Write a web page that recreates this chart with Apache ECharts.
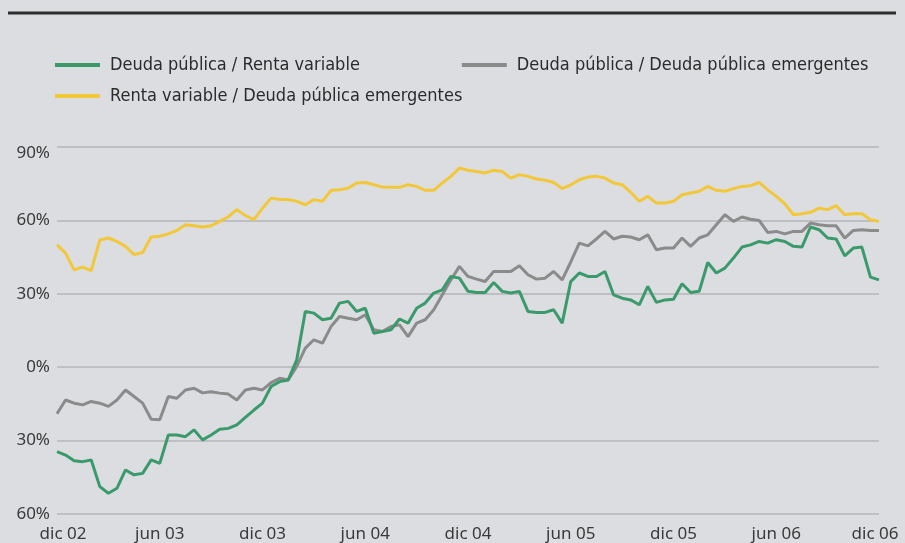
<!DOCTYPE html>
<html>
<head>
<meta charset="utf-8">
<script src="https://cdn.jsdelivr.net/npm/echarts@6/dist/echarts.min.js"></script>
<style>
html,body{margin:0;padding:0;background:#dcdde0;}
#c{width:905px;height:543px;}
</style>
</head>
<body>
<div id="c"></div>
<script>
// Tick labels shown on the x axis (every 6 months)
const tickLabels = ['dic 02','jun 03','dic 03','jun 04','dic 04','jun 05','dic 05','jun 06','dic 06'];
const monthNames = ['ene','feb','mar','abr','may','jun','jul','ago','sep','oct','nov','dic'];
const seriesNames = ['Deuda pública / Renta variable','Deuda pública / Deuda pública emergentes','Renta variable / Deuda pública emergentes'];

// Half-monthly readings, Dec 2002 – Dec 2006 (%)
const deudaRenta = [
 -34.5,-35.9,-38.2,-38.6,-37.9,-48.8,-51.5,-49.5,-42,-44,
 -43.4,-37.9,-39.3,-27.7,-27.7,-28.4,-25.6,-29.7,-27.7,-25.4,
 -25,-23.6,-20.5,-17.5,-14.7,-7.9,-5.9,-5.2,3,22.8,
 22.1,19.4,20,26.2,26.9,22.8,24.1,13.9,14.6,15.3,
 19.7,18,24.1,26.2,30.3,31.6,37.1,36.4,31,30.5,
 30.5,34.6,31,30.3,31,22.8,22.4,22.4,23.5,18,
 35,38.5,37.1,37.1,39.1,29.6,28.2,27.5,25.5,33,
 26.5,27.5,27.8,34.1,30.5,31,42.8,38.5,40.5,44.6,
 49.1,50,51.4,50.7,52.1,51.4,49.4,49.1,57.3,56.2,
 52.8,52.4,45.5,48.7,49.1,36.8,35.7
];
const deudaEmerg = [
 -19,-13.4,-14.7,-15.4,-14,-14.7,-16,-13.4,-9.3,-12,
 -14.7,-21.3,-21.5,-12,-12.7,-9.3,-8.6,-10.5,-10,-10.6,
 -11,-13.4,-9.3,-8.6,-9.3,-6.3,-4.5,-5.2,0.3,7.8,
 11.2,9.8,16.6,20.7,20,19.4,21.4,15.3,14.6,16.6,
 17.3,12.5,18,19.4,23.5,29.6,35.7,41.2,37.1,36,
 35,39.1,39.1,39.1,41.5,37.8,36,36.4,39.1,35.7,
 43,50.7,49.6,52.4,55.5,52.4,53.5,53.2,52.1,54.1,
 48,48.7,48.7,52.8,49.4,52.8,54.1,58.2,62.3,59.6,
 61.4,60.5,60,55.1,55.5,54.5,55.5,55.5,58.9,58.2,
 57.8,57.8,52.8,55.9,56.2,55.9,55.9
];
const rentaEmerg = [
 50,46.6,39.8,40.9,39.5,52,52.8,51.4,49.4,46,
 46.9,53.2,53.5,54.5,55.9,58.2,57.8,57.3,57.8,59.6,
 61.5,64.4,62,60.3,65,69.1,68.5,68.5,67.8,66.4,
 68.5,67.8,72.3,72.5,73.2,75.3,75.5,74.6,73.6,73.5,
 73.5,74.6,73.9,72.3,72.3,75.3,78,81.4,80.5,80,
 79.4,80.5,80,77.3,78.7,78,76.9,76.4,75.5,73,
 74.5,76.6,77.7,78,77.3,75.3,74.6,71.5,67.8,69.8,
 67.1,67.1,67.8,70.5,71.2,71.9,73.9,72.3,71.9,73,
 73.9,74.2,75.5,72.5,69.8,66.8,62.3,62.7,63.3,65,
 64.4,66,62.3,62.7,62.7,60.3,59.6
];

// Category labels: half-month dates starting Dec 2002
const categories = [];
for (let i = 0; i < deudaRenta.length; i++) {
  const m = 11 + Math.floor(i / 2);
  const yr = String(2002 + Math.floor(m / 12)).slice(2);
  categories.push((i % 2 === 0 ? '1 ' : '16 ') + monthNames[m % 12] + ' ' + yr);
}

const labelFont = "'Noto Sans', 'Open Sans', sans-serif";
const legendFont = "'Liberation Sans Narrow', 'DejaVu Sans Condensed', sans-serif";
const legendText = {fontFamily: legendFont, fontSize: 18, color: '#2b2b2b', padding: [0,0,0,5]};

const chart = echarts.init(document.getElementById('c'), null, {renderer: 'canvas'});
chart.setOption({
  animation: false,
  backgroundColor: '#dcdde0',
  graphic: [{
    type: 'line',
    shape: {x1: 8, y1: 13, x2: 896, y2: 13},
    style: {stroke: '#2e2e2e', lineWidth: 3}
  }],
  legend: [{
    data: [seriesNames[0], seriesNames[1]],
    left: 55, top: 56, padding: 0,
    icon: 'rect', itemWidth: 45, itemHeight: 4, itemGap: 102,
    textStyle: legendText
  }, {
    data: [seriesNames[2]],
    left: 55, top: 87, padding: 0,
    icon: 'rect', itemWidth: 45, itemHeight: 4,
    textStyle: legendText
  }],
  grid: {left: 57, right: 26, top: 147, bottom: 29, containLabel: false},
  xAxis: {
    type: 'category',
    boundaryGap: false,
    data: categories,
    axisLine: {show: false},
    axisTick: {show: false},
    splitLine: {show: false},
    axisLabel: {
      interval: 11,
      margin: 12,
      color: '#3a3a3a',
      fontSize: 17,
      fontFamily: labelFont,
      formatter: function (v, idx) {
        const t = tickLabels[Math.round(idx / 12)];
        if (idx === 0) return '{first|' + t + '}';
        if (idx === categories.length - 1) return '{last|' + t + '}';
        return t;
      },
      rich: {
        first: {padding: [0,0,0,12], color: '#3a3a3a', fontSize: 17, fontFamily: labelFont},
        last: {padding: [0,8,0,0], color: '#3a3a3a', fontSize: 17, fontFamily: labelFont}
      }
    }
  },
  yAxis: {
    type: 'value',
    min: -60, max: 90, interval: 30,
    axisLine: {show: false},
    axisTick: {show: false},
    splitLine: {lineStyle: {color: '#b4b5b8', width: 1.5}},
    axisLabel: {
      margin: 7,
      color: '#3a3a3a',
      fontSize: 17,
      fontFamily: labelFont,
      formatter: function (v) {
        const t = Math.abs(v) + '%';
        return v === 90 ? '{top|' + t + '}' : t;
      },
      rich: {
        top: {padding: [12,0,0,0], color: '#3a3a3a', fontSize: 17, fontFamily: labelFont}
      }
    }
  },
  series: [{
    name: seriesNames[1], type: 'line', data: deudaEmerg, showSymbol: false,
    lineStyle: {width: 3, color: '#8b8b8b'}, itemStyle: {color: '#8b8b8b'}, z: 2
  }, {
    name: seriesNames[0], type: 'line', data: deudaRenta, showSymbol: false,
    lineStyle: {width: 3, color: '#3b9a6b'}, itemStyle: {color: '#3b9a6b'}, z: 3
  }, {
    name: seriesNames[2], type: 'line', data: rentaEmerg, showSymbol: false,
    lineStyle: {width: 3, color: '#f2c83a'}, itemStyle: {color: '#f2c83a'}, z: 4
  }]
});
</script>
</body>
</html>
